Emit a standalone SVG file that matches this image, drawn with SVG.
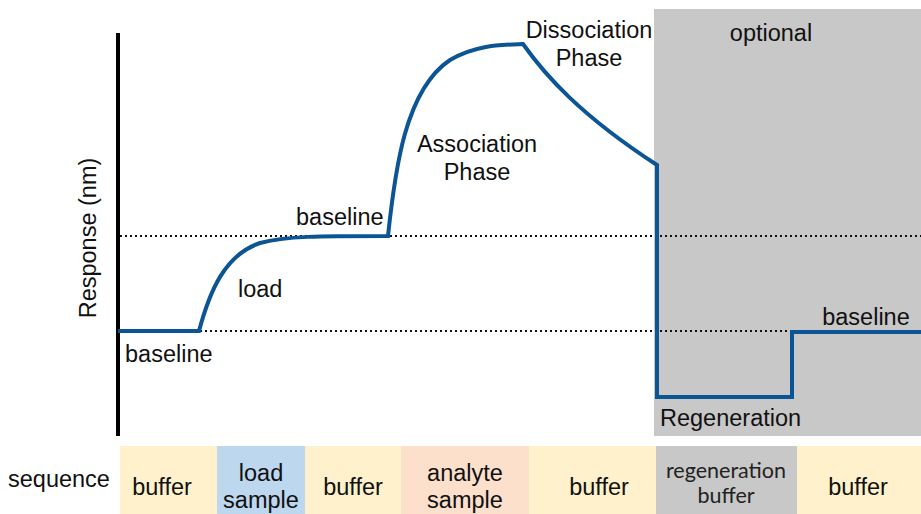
<svg xmlns="http://www.w3.org/2000/svg" width="921" height="514" viewBox="0 0 921 514">
<style>
text{font-family:"Liberation Sans",Arial,sans-serif;font-size:23.5px;fill:#111}
.alt{font-family:Lato,"Noto Sans",sans-serif;font-size:21.5px;fill:#222}
.mid{text-anchor:middle}
.dot{stroke:#111;stroke-width:2;stroke-dasharray:2 3;fill:none}
.curve{stroke:#0B5594;stroke-width:4;fill:none;stroke-linejoin:miter}
</style>
<rect id="optional-region" x="654" y="9" width="267" height="427" fill="#C8C8C8"/>
<g id="axis">
<line x1="118" y1="33" x2="118" y2="436" stroke="#000" stroke-width="4"/>
<text class="mid" transform="translate(96,238) rotate(-90)">Response (nm)</text>
</g>
<g id="connectors">
<line class="dot" x1="120" y1="236" x2="921" y2="236"/>
<line class="dot" x1="120" y1="331" x2="921" y2="331"/>
<path class="curve" d="M118,331 H199 C210,290 225,255 260,243 C285,236 320,236 388,236 C395,170 405,90 450,60 C475,45 500,45 523,44 C545,75 580,115 657,165 V397 H792 V332 H921"/>
</g>
<g id="labels">
<text x="125" y="362">baseline</text>
<text x="238" y="297">load</text>
<text x="296" y="225">baseline</text>
<text class="mid" x="477" y="152">Association</text>
<text class="mid" x="477" y="180">Phase</text>
<text class="mid" x="589" y="38">Dissociation</text>
<text class="mid" x="589" y="66">Phase</text>
<text class="mid" x="771" y="41">optional</text>
<text class="mid" x="866" y="325">baseline</text>
<text x="660" y="426">Regeneration</text>
</g>
<g id="sequence">
<text x="8" y="487">sequence</text>
<g id="seq-buffer1"><rect x="120" y="446" width="97" height="68" fill="#FFF1CC"/><text class="mid" x="162" y="495">buffer</text></g>
<g id="seq-load"><rect x="217" y="446" width="88" height="68" fill="#BDD7EE"/><text class="mid" x="261" y="481">load</text><text class="mid" x="261" y="508">sample</text></g>
<g id="seq-buffer2"><rect x="305" y="446" width="96" height="68" fill="#FFF1CC"/><text class="mid" x="353" y="495">buffer</text></g>
<g id="seq-analyte"><rect x="401" y="446" width="128" height="68" fill="#FCE0CC"/><text class="mid" x="465" y="481">analyte</text><text class="mid" x="465" y="508">sample</text></g>
<g id="seq-buffer3"><rect x="529" y="446" width="127" height="68" fill="#FFF1CC"/><text class="mid" x="599" y="495">buffer</text></g>
<g id="seq-regen"><rect x="656" y="446" width="141" height="68" fill="#C8C8C8"/><text class="mid alt" x="726" y="478">regeneration</text><text class="mid alt" x="726" y="503">buffer</text></g>
<g id="seq-buffer4"><rect x="797" y="446" width="124" height="68" fill="#FFF1CC"/><text class="mid" x="858" y="495">buffer</text></g>
</g>
</svg>
